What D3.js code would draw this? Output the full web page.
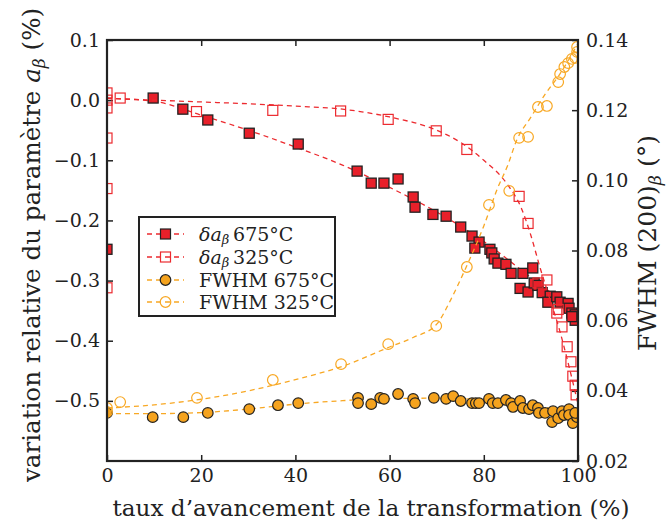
<!DOCTYPE html>
<html><head><meta charset="utf-8">
<script src="https://cdn.jsdelivr.net/npm/d3@7"></script>
<style>body{margin:0;background:#fff}svg{display:block}</style>
</head><body><svg id="c" width="667" height="525" font-family="'DejaVu Serif', 'Liberation Serif', serif"></svg>
<script>
// ---- data ----
const da675X = [0, 9.8, 16.1, 21.4, 30.2, 40.6, 53.1, 56.1, 58.8, 61.8, 65.0, 65.4, 69.2, 72.0, 75.1, 77.5, 79.0, 78.1, 81.3, 81.7, 82.2, 83.0, 84.7, 85.8, 88.3, 90.4, 87.7, 89.4, 90.7, 91.5, 92.4, 94.1, 93.6, 95.5, 96.2, 97.9, 98.1, 98.7, 99.4, 99.4, 98.7];
const da675Y = [-0.248, 0.0035, -0.015, -0.033, -0.055, -0.073, -0.118, -0.138, -0.138, -0.131, -0.161, -0.178, -0.190, -0.193, -0.211, -0.226, -0.236, -0.246, -0.248, -0.254, -0.264, -0.271, -0.273, -0.288, -0.288, -0.279, -0.313, -0.319, -0.304, -0.308, -0.320, -0.326, -0.336, -0.327, -0.336, -0.338, -0.346, -0.354, -0.357, -0.366, -0.360];
const da325X = [0, 0, 0, 0, 0, 0, 2.8, 19.0, 35.2, 49.6, 59.7, 69.9, 76.4, 87.5, 89.4, 93.4, 91.5, 95.8, 95.5, 96.6, 97.7, 98.5, 98.9, 99.4, 99.6];
const da325Y = [0.012, 0.0, -0.013, -0.063, -0.147, -0.312, 0.0035, -0.019, -0.017, -0.018, -0.032, -0.051, -0.082, -0.160, -0.205, -0.299, -0.304, -0.348, -0.354, -0.377, -0.410, -0.435, -0.459, -0.474, -0.490];
const fw675X = [0, 9.7, 16.2, 21.4, 30.2, 36.3, 40.6, 53.3, 53.3, 56.1, 58.0, 58.8, 61.8, 65.0, 65.4, 69.4, 72.0, 73.5, 75.1, 77.5, 78.3, 79.0, 81.1, 81.9, 83.0, 84.7, 85.8, 86.2, 87.7, 88.3, 89.6, 90.4, 91.5, 91.7, 93.0, 94.7, 94.5, 95.8, 96.6, 97.0, 98.1, 98.1, 98.9, 99.8, 99.4];
const fw675Y = [0.0337, 0.0325, 0.0325, 0.0337, 0.0348, 0.0359, 0.0365, 0.0380, 0.0365, 0.0362, 0.0380, 0.0377, 0.0391, 0.0377, 0.0365, 0.0380, 0.0377, 0.0385, 0.0371, 0.0365, 0.0365, 0.0365, 0.0377, 0.0365, 0.0365, 0.0374, 0.0365, 0.0354, 0.0371, 0.0351, 0.0348, 0.0359, 0.0351, 0.0337, 0.0337, 0.0342, 0.0311, 0.0322, 0.0342, 0.0331, 0.0348, 0.0331, 0.0308, 0.0325, 0.0337];
const fw325X = [0, 0, 2.8, 19.1, 35.2, 49.7, 59.7, 69.9, 76.4, 81.1, 85.4, 87.5, 89.4, 91.5, 93.4, 95.8, 96.2, 97.1, 97.9, 98.7, 99.4, 99.8, 99.8];
const fw325Y = [0.0351, 0.0340, 0.0368, 0.0380, 0.0431, 0.0476, 0.0533, 0.0585, 0.0753, 0.0930, 0.0970, 0.1121, 0.1124, 0.1209, 0.1212, 0.1280, 0.1303, 0.1323, 0.1334, 0.1346, 0.1349, 0.1366, 0.1380];
// fit curves (dashed)
const fitDa675X = [0, 10, 20, 30, 40, 50, 60, 70, 80, 90, 95, 100];
const fitDa675Y = [0.003, -0.002, -0.025, -0.050, -0.078, -0.108, -0.145, -0.186, -0.235, -0.295, -0.325, -0.362];
const fitDa325X = [0, 10, 20, 30, 40, 50, 60, 70, 75, 80, 85, 88, 90, 92, 94, 96, 98, 100];
const fitDa325Y = [0.003, 0.0, -0.003, -0.006, -0.010, -0.015, -0.028, -0.050, -0.070, -0.100, -0.140, -0.180, -0.225, -0.280, -0.330, -0.380, -0.440, -0.505];
const fitFw675X = [0, 10, 20, 30, 40, 50, 60, 70, 80, 90, 95, 100];
const fitFw675Y = [0.0335, 0.0335, 0.0338, 0.0348, 0.0362, 0.0372, 0.0378, 0.0379, 0.0374, 0.0360, 0.0348, 0.0332];
const fitFw325X = [0, 10, 20, 30, 40, 50, 60, 65, 70, 73, 76, 80, 83, 85, 87, 90, 93, 96, 100];
const fitFw325Y = [0.0351, 0.0360, 0.0376, 0.0400, 0.0432, 0.0470, 0.0525, 0.0552, 0.0590, 0.0660, 0.0745, 0.0870, 0.0980, 0.1040, 0.1115, 0.1180, 0.1245, 0.1300, 0.1390];
const xTicks = [0, 20, 40, 60, 80, 100];
const yLTicks = [0.1, 0.0, -0.1, -0.2, -0.3, -0.4, -0.5];
const yRTicks = [0.02, 0.04, 0.06, 0.08, 0.10, 0.12, 0.14];
const legendLabels = ["675°C", "325°C", "FWHM 675°C", "FWHM 325°C"];

// ---- chart ----
const FONT = "'DejaVu Serif', 'Liberation Serif', serif";
const svg = d3.select("#c");
const L = 107, R = 578, T = 40, B = 461;
const x = d3.scaleLinear([0, 100], [L, R]);
const yL = d3.scaleLinear([-0.6, 0.1], [B, T]);
const yR = d3.scaleLinear([0.02, 0.14], [B, T]);
const RED = "#e8202a", REDL = "#ec2a2f", ORA = "#f5a31e", ORAL = "#f8a824", EDGE = "#222";
const fmtL = d => (d < 0 ? "\u2212" : "") + Math.abs(d).toFixed(1);
const fmtR = d => d.toFixed(2);

function styleAxis(g, fs) {
  g.attr("font-family", FONT);
  g.select(".domain").remove();
  g.selectAll(".tick line").attr("stroke", EDGE).attr("stroke-width", 1.5);
  g.selectAll(".tick text").attr("font-size", fs).attr("fill", "#222").attr("font-family", FONT);
}
svg.append("g").attr("transform", `translate(0,${B})`)
  .call(d3.axisBottom(x).tickValues(xTicks).tickSizeInner(-6).tickSizeOuter(0).tickPadding(8))
  .call(g => styleAxis(g, 19));
svg.append("g").attr("transform", `translate(0,${T})`)
  .call(d3.axisTop(x).tickValues(xTicks.slice(1, -1)).tickSizeInner(-6).tickSizeOuter(0).tickFormat(""))
  .call(g => styleAxis(g, 19));
svg.append("g").attr("transform", `translate(${L},0)`)
  .call(d3.axisLeft(yL).tickValues(yLTicks).tickSizeInner(-6).tickSizeOuter(0).tickPadding(7).tickFormat(fmtL))
  .call(g => styleAxis(g, 19));
svg.append("g").attr("transform", `translate(${R},0)`)
  .call(d3.axisRight(yR).tickValues(yRTicks).tickSizeInner(-6).tickSizeOuter(0).tickPadding(8).tickFormat(fmtR))
  .call(g => styleAxis(g, 19));

svg.append("clipPath").attr("id", "clip").append("rect").attr("x", L).attr("y", T).attr("width", R - L).attr("height", B - T);
const plot = svg.append("g");

function fitLine(xs, ys, ys_scale, color) {
  const pts = xs.map((v, i) => [x(v), ys_scale(ys[i])]);
  plot.append("path").attr("clip-path", "url(#clip)")
    .attr("d", d3.line().curve(d3.curveMonotoneX)(pts))
    .attr("fill", "none").attr("stroke", color).attr("stroke-width", 1.3).attr("stroke-dasharray", "5,4");
}
function squares(xs, ys, filled) {
  const s = 10;
  plot.append("g").attr("clip-path", "url(#clip)").selectAll("rect").data(xs).join("rect")
    .attr("x", (d) => x(d) - s / 2).attr("y", (d, i) => yL(ys[i]) - s / 2)
    .attr("width", s).attr("height", s)
    .attr("fill", filled ? RED : "none").attr("stroke", filled ? EDGE : REDL).attr("stroke-width", filled ? 1.3 : 1.2);
}
function circles(xs, ys, filled) {
  plot.append("g").attr("clip-path", "url(#clip)").selectAll("circle").data(xs).join("circle")
    .attr("cx", d => x(d)).attr("cy", (d, i) => yR(ys[i])).attr("r", 5.3)
    .attr("fill", filled ? ORA : "none").attr("stroke", filled ? EDGE : ORAL).attr("stroke-width", 1.2);
}
fitLine(fitDa675X, fitDa675Y, yL, REDL); squares(da675X, da675Y, true);
fitLine(fitDa325X, fitDa325Y, yL, REDL); squares(da325X, da325Y, false);
fitLine(fitFw675X, fitFw675Y, yR, ORAL); circles(fw675X, fw675Y, true);
fitLine(fitFw325X, fitFw325Y, yR, ORAL); circles(fw325X, fw325Y, false);

// frame
svg.append("rect").attr("x", L).attr("y", T).attr("width", R - L).attr("height", B - T)
  .attr("fill", "none").attr("stroke", EDGE).attr("stroke-width", 2.2);

// legend
const lg = svg.append("g");
lg.append("rect").attr("x", 139).attr("y", 217).attr("width", 196).attr("height", 99)
  .attr("fill", "#fff").attr("stroke", EDGE).attr("stroke-width", 2);
const rows = [234, 257, 280, 302];
const lcol = [REDL, REDL, ORAL, ORAL];
rows.forEach((ry, i) => {
  lg.append("line").attr("x1", 147).attr("x2", 184).attr("y1", ry).attr("y2", ry)
    .attr("stroke", lcol[i]).attr("stroke-width", 1.3).attr("stroke-dasharray", "5,4");
  if (i < 2) {
    lg.append("rect").attr("x", 160.5).attr("y", ry - 5).attr("width", 10).attr("height", 10)
      .attr("fill", i === 0 ? RED : "none").attr("stroke", i === 0 ? EDGE : REDL).attr("stroke-width", 1.2);
  } else {
    lg.append("circle").attr("cx", 165.5).attr("cy", ry).attr("r", 5.3)
      .attr("fill", i === 2 ? ORA : "none").attr("stroke", i === 2 ? EDGE : ORAL).attr("stroke-width", 1.2);
  }
  const t = lg.append("text").attr("x", 199).attr("y", ry + 7).attr("font-size", 19).attr("font-family", FONT).attr("fill", "#222");
  if (i < 2) {
    t.append("tspan").attr("font-style", "italic").text("δa");
    t.append("tspan").attr("font-style", "italic").attr("font-size", 13).attr("dy", 3).text("β");
    t.append("tspan").attr("dy", -3).text("\u2009" + legendLabels[i]);
  } else {
    t.text(legendLabels[i]);
  }
});

// axis titles
function fitWidth(sel, target) {
  const w = sel.node().getComputedTextLength();
  const fs = parseFloat(sel.attr("font-size"));
  sel.attr("font-size", fs * target / w);
  sel.selectAll("tspan[data-sub]").attr("font-size", fs * target / w * 0.7);
}
const xt = svg.append("text").attr("x", 371).attr("y", 516).attr("text-anchor", "middle").attr("font-size", 25)
  .attr("font-family", FONT).attr("fill", "#222")
  .text("taux d\u2019avancement de la transformation (%)");
fitWidth(xt, 517);

const ylt = svg.append("text").attr("transform", "translate(40,245) rotate(-90)").attr("text-anchor", "middle").attr("font-size", 25).attr("font-family", FONT).attr("fill", "#222");
ylt.append("tspan").text("variation relative du paramètre ");
ylt.append("tspan").attr("font-style", "italic").text("a");
ylt.append("tspan").attr("data-sub", 1).attr("font-style", "italic").attr("font-size", 17).attr("dy", 5).text("β");
ylt.append("tspan").attr("dy", -5).text(" (%)");
fitWidth(ylt, 474);

const yrt = svg.append("text").attr("transform", "translate(656,243) rotate(-90)").attr("text-anchor", "middle").attr("font-size", 25).attr("font-family", FONT).attr("fill", "#222");
yrt.append("tspan").text("FWHM (200)");
yrt.append("tspan").attr("data-sub", 1).attr("font-style", "italic").attr("font-size", 17).attr("dy", 5).text("β");
yrt.append("tspan").attr("dy", -5).text(" (°)");
fitWidth(yrt, 216);
</script></body></html>
